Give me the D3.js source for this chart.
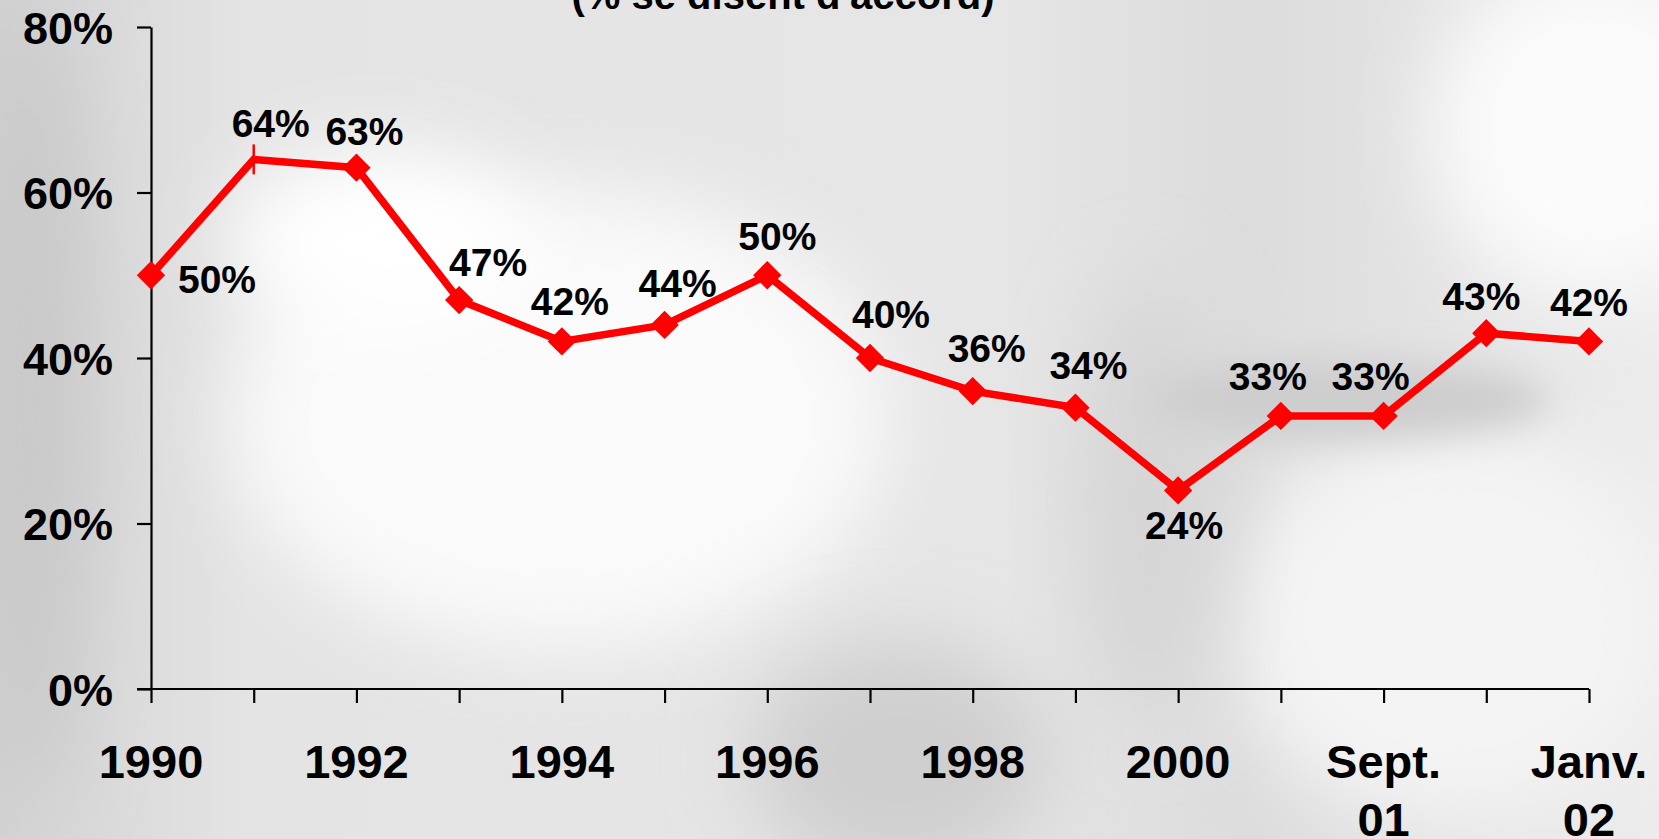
<!DOCTYPE html>
<html><head><meta charset="utf-8">
<script src="https://cdn.jsdelivr.net/npm/d3@7/dist/d3.min.js"></script>
<style>
html,body{margin:0;padding:0;overflow:hidden;background:#e2e2e2;}
svg{display:block;}
text{font-family:"Liberation Sans",Arial,sans-serif;font-weight:bold;fill:#000;}
</style></head>
<body>
<svg id="chart" width="1659" height="839"></svg>
<script>
// ---- data ----
const categories = ["1990","1991","1992","1993","1994","1995","1996","1997","1998","1999","2000","2001","Sept. 01","Nov. 01","Janv. 02"];
const tickLabels = ["1990","","1992","","1994","","1996","","1998","","2000","","Sept.|01","","Janv.|02"];
const values = [50,64,63,47,42,44,50,40,36,34,24,33,33,43,42];
const yTicks = [0,20,40,60,80];
const titleText = "(% se disent d'accord)";
// markers: which points show a diamond ("d") or only a vertical dash ("|")
const markerTypes = ["d","|","d","d","d","d","d","d","d","d","d","d","d","d","d"];

// ---- layout ----
const W = 1659, H = 839;
const margin = {left:151, right:70, top:27, bottom:150};
const labelOffsets = [[66,18],[17,-22],[8,-23],[29,-24],[8,-26],[13,-28],[10,-25],[21,-30],[14,-29],[13,-29],[6,49],[-13,-26],[-13,-26],[-5,-23],[0,-25]];

const svg = d3.select("#chart");

// background texture approximation
const defs = svg.append("defs");
const blur = defs.append("filter").attr("id","blur").attr("x","-50%").attr("y","-50%").attr("width","200%").attr("height","200%");
blur.append("feGaussianBlur").attr("stdDeviation",40);
const blurS = defs.append("filter").attr("id","blurS").attr("x","-50%").attr("y","-50%").attr("width","200%").attr("height","200%");
blurS.append("feGaussianBlur").attr("stdDeviation",18);
const bgGrad = defs.append("linearGradient").attr("id","bgGrad").attr("x1","0").attr("y1","0").attr("x2","1").attr("y2","0");
bgGrad.append("stop").attr("offset","0").attr("stop-color","#d2d2d2");
bgGrad.append("stop").attr("offset","0.15").attr("stop-color","#e4e4e4");
bgGrad.append("stop").attr("offset","0.6").attr("stop-color","#e6e6e6");
bgGrad.append("stop").attr("offset","0.75").attr("stop-color","#dcdcdc");
bgGrad.append("stop").attr("offset","1").attr("stop-color","#ececec");
const bg = svg.append("g");
bg.append("rect").attr("width",W).attr("height",H).attr("fill","url(#bgGrad)");
bg.append("ellipse").attr("cx",560).attr("cy",420).attr("rx",330).attr("ry",230).attr("fill","#fafafa").attr("filter","url(#blur)");
bg.append("ellipse").attr("cx",380).attr("cy",240).attr("rx",150).attr("ry",90).attr("fill","#ffffff").attr("filter","url(#blur)");
bg.append("ellipse").attr("cx",1590).attr("cy",130).attr("rx",160).attr("ry",170).attr("fill","#fbfbfb").attr("filter","url(#blur)");
bg.append("ellipse").attr("cx",1450).attr("cy",620).attr("rx",220).attr("ry",200).attr("fill","#f4f4f4").attr("filter","url(#blur)");
bg.append("ellipse").attr("cx",900).attr("cy",760).attr("rx",150).attr("ry",120).attr("fill","#cfcfcf").attr("filter","url(#blur)");
bg.append("ellipse").attr("cx",1150).attr("cy",500).attr("rx",70).attr("ry",220).attr("fill","#d6d6d6").attr("filter","url(#blur)");
bg.append("ellipse").attr("cx",1350).attr("cy",400).attr("rx",200).attr("ry",40).attr("fill","#cdcdcd").attr("filter","url(#blurS)");
bg.append("ellipse").attr("cx",30).attr("cy",400).attr("rx",60).attr("ry",400).attr("fill","#c9c9c9").attr("filter","url(#blur)");

// ---- scales ----
const x = d3.scalePoint().domain(categories).range([margin.left, W - margin.right]);
const y = d3.scaleLinear().domain([0,80]).range([689, 27]);

// title
svg.append("text").attr("x",783).attr("y",9).attr("text-anchor","middle")
  .style("font-size","40px").text(titleText);

// y axis
const yAxis = svg.append("g").attr("transform",`translate(${margin.left},0)`)
  .call(d3.axisLeft(y).tickValues(yTicks).tickFormat(d=>d+"%").tickSize(14).tickSizeOuter(0));
yAxis.select(".domain").attr("stroke","#000").attr("stroke-width",2.2);
yAxis.selectAll(".tick line").attr("stroke","#000").attr("stroke-width",2.2);
yAxis.selectAll(".tick text").attr("x",-38).attr("dy","0.36em")
  .style("font-size","45px").style("font-family","'Liberation Sans',Arial,sans-serif").style("font-weight","bold");

// x axis
const xAxis = svg.append("g").attr("transform","translate(0,689)")
  .call(d3.axisBottom(x).tickSize(14).tickSizeOuter(0).tickFormat(""));
xAxis.select(".domain").attr("stroke","#000").attr("stroke-width",2.2)
  .attr("d",`M${margin.left-14},0H${x(categories[categories.length-1])}`);
xAxis.selectAll(".tick line").attr("stroke","#000").attr("stroke-width",2.2);

// x tick labels (multi-line)
const xl = svg.append("g");
categories.forEach((c,i)=>{
  const lab = tickLabels[i];
  if(!lab) return;
  const t = xl.append("text").attr("x",x(c)).attr("y",778).attr("text-anchor","middle").style("font-size","47px");
  lab.split("|").forEach((part,j)=>{
    t.append("tspan").attr("x",x(c)).attr("dy", j===0?0:58).text(part);
  });
});

// line
const pts = categories.map((c,i)=>({c, v:values[i], m:markerTypes[i], off:labelOffsets[i]}));
svg.append("path").datum(pts)
  .attr("d", d3.line().x(d=>x(d.c)).y(d=>y(d.v)))
  .attr("fill","none").attr("stroke","#ff0000").attr("stroke-width",7.5).attr("stroke-linejoin","miter");

// markers
const dsym = d3.symbol().type(d3.symbolDiamond2).size(2*16*16);
svg.append("g").selectAll("path").data(pts.filter(d=>d.m==="d")).join("path")
  .attr("transform",d=>`translate(${x(d.c)},${y(d.v)})`)
  .attr("d",dsym).attr("fill","#ff0000");
svg.append("g").selectAll("line").data(pts.filter(d=>d.m==="|")).join("line")
  .attr("x1",d=>x(d.c)).attr("x2",d=>x(d.c))
  .attr("y1",d=>y(d.v)-15).attr("y2",d=>y(d.v)+15)
  .attr("stroke","#ff0000").attr("stroke-width",2.5);

// data labels
svg.append("g").selectAll("text").data(pts).join("text")
  .attr("x",d=>x(d.c)+d.off[0]).attr("y",d=>y(d.v)+d.off[1])
  .attr("text-anchor","middle").style("font-size","39px")
  .text(d=>d.v+"%");
</script>
</body></html>
